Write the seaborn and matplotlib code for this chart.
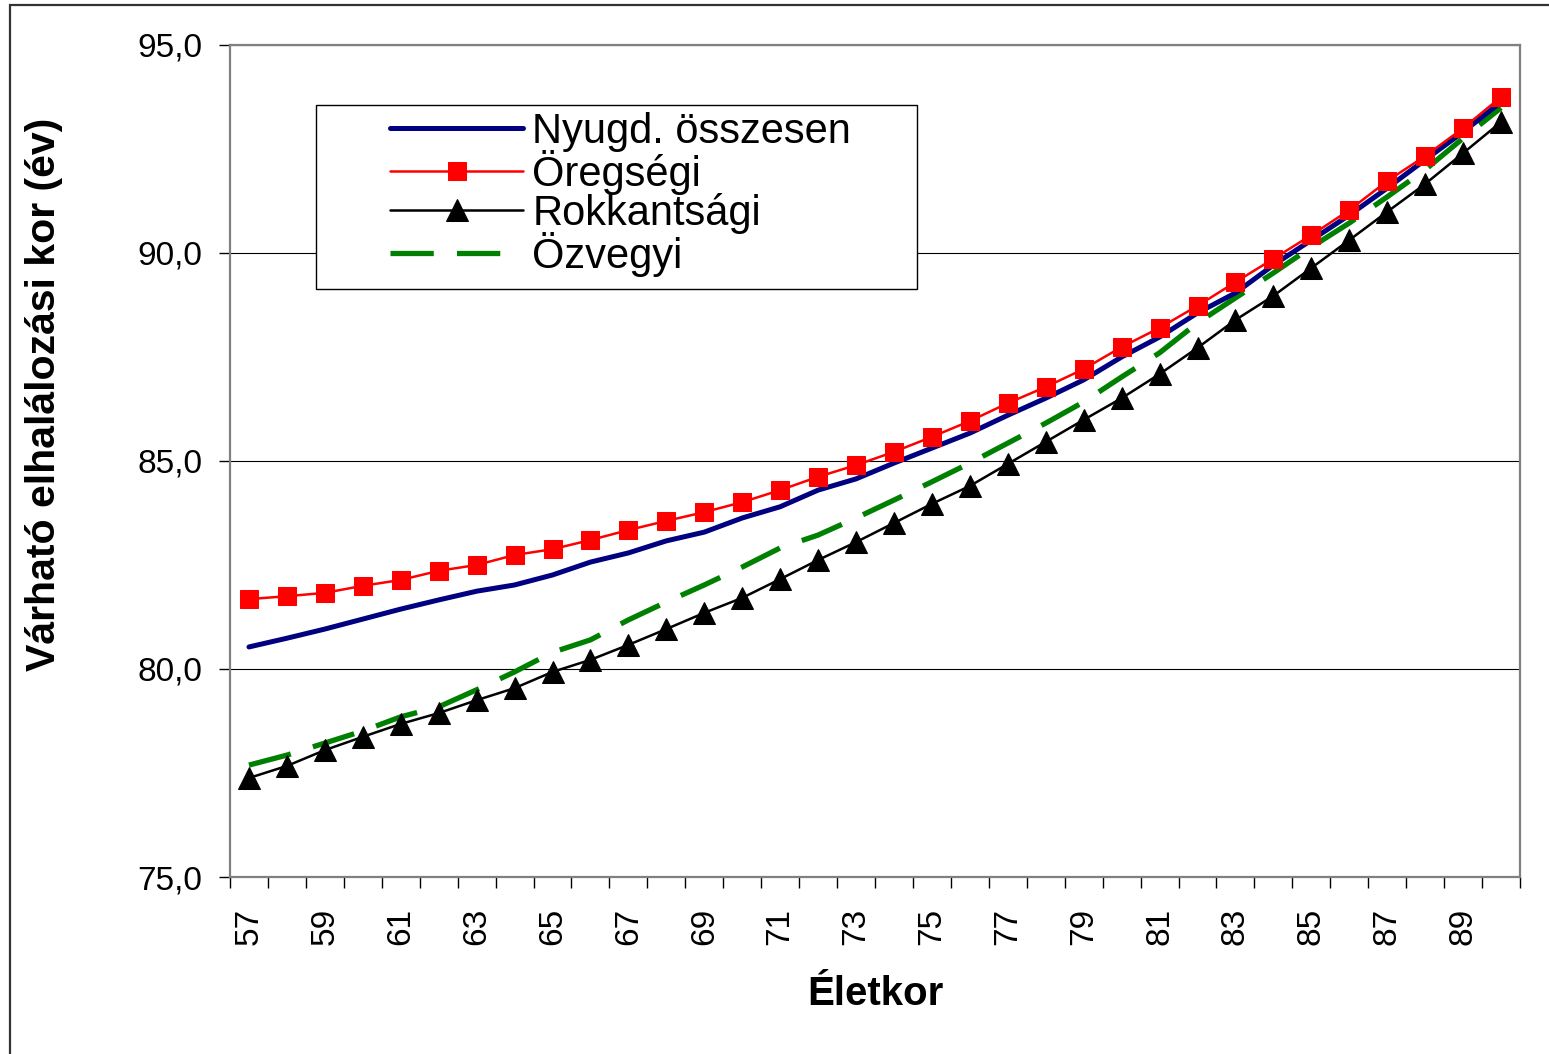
import matplotlib

matplotlib.use("Agg")
import matplotlib.pyplot as plt
import matplotlib.patches as mpatches
import numpy as np
import pandas as pd
import seaborn as sns
from matplotlib.ticker import FixedLocator, FuncFormatter

# ages on the category axis
ages = list(range(57, 91))

# expected age at death, by pension type
osszesen = [80.53, 80.74, 80.96, 81.20, 81.44, 81.66, 81.87, 82.02, 82.26, 82.57,
            82.79, 83.08, 83.29, 83.63, 83.90, 84.30, 84.57, 84.95, 85.31, 85.67,
            86.10, 86.51, 86.95, 87.50, 87.98, 88.56, 89.04, 89.71, 90.31, 90.91,
            91.56, 92.24, 92.91, 93.63]
oregsegi = [81.68, 81.75, 81.83, 82.00, 82.14, 82.36, 82.50, 82.74, 82.88, 83.10,
            83.34, 83.56, 83.77, 84.01, 84.30, 84.62, 84.90, 85.22, 85.58, 85.96,
            86.39, 86.78, 87.21, 87.74, 88.20, 88.73, 89.30, 89.86, 90.43, 91.03,
            91.73, 92.33, 93.00, 93.75]
rokkantsagi = [77.38, 77.67, 78.05, 78.37, 78.68, 78.94, 79.25, 79.54, 79.93, 80.22,
               80.58, 80.96, 81.35, 81.71, 82.16, 82.62, 83.05, 83.51, 83.97, 84.40,
               84.93, 85.46, 85.99, 86.51, 87.09, 87.72, 88.39, 88.97, 89.64, 90.31,
               90.99, 91.66, 92.40, 93.15]
ozvegyi = [77.69, 77.93, 78.22, 78.51, 78.85, 79.09, 79.50, 79.93, 80.40, 80.70,
           81.18, 81.61, 82.02, 82.45, 82.91, 83.22, 83.63, 84.06, 84.50, 84.95,
           85.43, 85.91, 86.42, 87.02, 87.60, 88.32, 88.92, 89.52, 90.14, 90.72,
           91.35, 92.00, 92.76, 93.49]

series_names = ["Nyugd. összesen", "Öregségi", "Rokkantsági", "Özvegyi"]
y_ticks = [75, 80, 85, 90, 95]
x_tick_labels = [str(a) for a in range(57, 90, 2)]

df = pd.DataFrame({
    "Életkor": ages,
    series_names[0]: osszesen,
    series_names[1]: oregsegi,
    series_names[2]: rokkantsagi,
    series_names[3]: ozvegyi,
})

sns.set_style("white")
plt.rcParams["font.family"] = ["Liberation Sans", "DejaVu Sans"]
plt.rcParams["text.color"] = "black"
plt.rcParams["axes.labelcolor"] = "black"
plt.rcParams["xtick.color"] = "black"
plt.rcParams["ytick.color"] = "black"

fig = plt.figure(figsize=(15.49, 10.54), dpi=100)
ax = fig.add_axes([230 / 1549, 1 - 877 / 1054, 1290 / 1549, 832 / 1054])

# outer chart border (top and left visible)
fig.patches.append(mpatches.Rectangle(
    (10 / 1549, -0.02), 1.2, 1 - 5 / 1054 + 0.02, transform=fig.transFigure,
    fill=False, edgecolor="#333333", linewidth=1.6, clip_on=False))

styles = {
    series_names[0]: dict(color="#000080", linewidth=3.6, zorder=4),
    series_names[1]: dict(color="#FF0000", linewidth=1.8, marker="s", markersize=13.5,
                          markeredgecolor="#FF0000", zorder=6),
    series_names[2]: dict(color="black", linewidth=1.8, marker="^", markersize=15.5,
                          markeredgecolor="black", zorder=5),
    series_names[3]: dict(color="#008000", linewidth=3.8, dashes=(8.2, 4.4), zorder=3),
}

for name in series_names:
    sns.lineplot(data=df, x="Életkor", y=name, ax=ax, label=name, **styles[name])

ax.set_xlim(56.5, 90.5)
ax.set_ylim(75, 95)

ax.yaxis.set_major_locator(FixedLocator(y_ticks))
ax.yaxis.set_major_formatter(FuncFormatter(lambda v, _: f"{v:.1f}".replace(".", ",")))
ax.xaxis.set_major_locator(FixedLocator([int(t) for t in x_tick_labels]))
ax.set_xticklabels(x_tick_labels, rotation=90)
ax.xaxis.set_minor_locator(FixedLocator(np.arange(56.5, 91, 1.0)))

ax.tick_params(axis="x", which="major", length=0, pad=22, labelsize=24)
ax.tick_params(axis="x", which="minor", length=8, width=1, color="black", direction="out",
               bottom=True)
ax.tick_params(axis="y", which="major", length=8, width=1, color="black", direction="out",
               left=True, pad=12, labelsize=24)

ax.grid(axis="y", color="black", linewidth=0.8)
ax.grid(axis="x", visible=False)
for side in ["left", "bottom", "top", "right"]:
    ax.spines[side].set_visible(True)
    ax.spines[side].set_color("#808080")
    ax.spines[side].set_linewidth(1.6)

ax.set_xlabel("Életkor", fontsize=29, fontweight="bold", labelpad=22)
ax.set_ylabel("Várható elhalálozási kor (év)", fontsize=29.5, fontweight="bold")
ax.yaxis.set_label_coords((63 - 230) / 1290, (877 - 394) / 832)

# legend: box drawn separately so it can be wider than its content
box = mpatches.Rectangle(((316 - 230) / 1290, (877 - 289) / 832), 601 / 1290, 184 / 832,
                         transform=ax.transAxes, facecolor="white", edgecolor="black",
                         linewidth=1.0, zorder=7)
ax.add_patch(box)
handles, labels = ax.get_legend_handles_labels()
leg = ax.legend(handles, labels, loc="upper left",
                bbox_to_anchor=((390 - 230) / 1290, (877 - 112) / 832),
                frameon=False, fontsize=30, handlelength=3.2, handletextpad=0.22,
                labelspacing=-0.05, borderaxespad=0, borderpad=0)
leg.set_zorder(8)

fig.savefig("out.png", dpi=100, facecolor="white")
